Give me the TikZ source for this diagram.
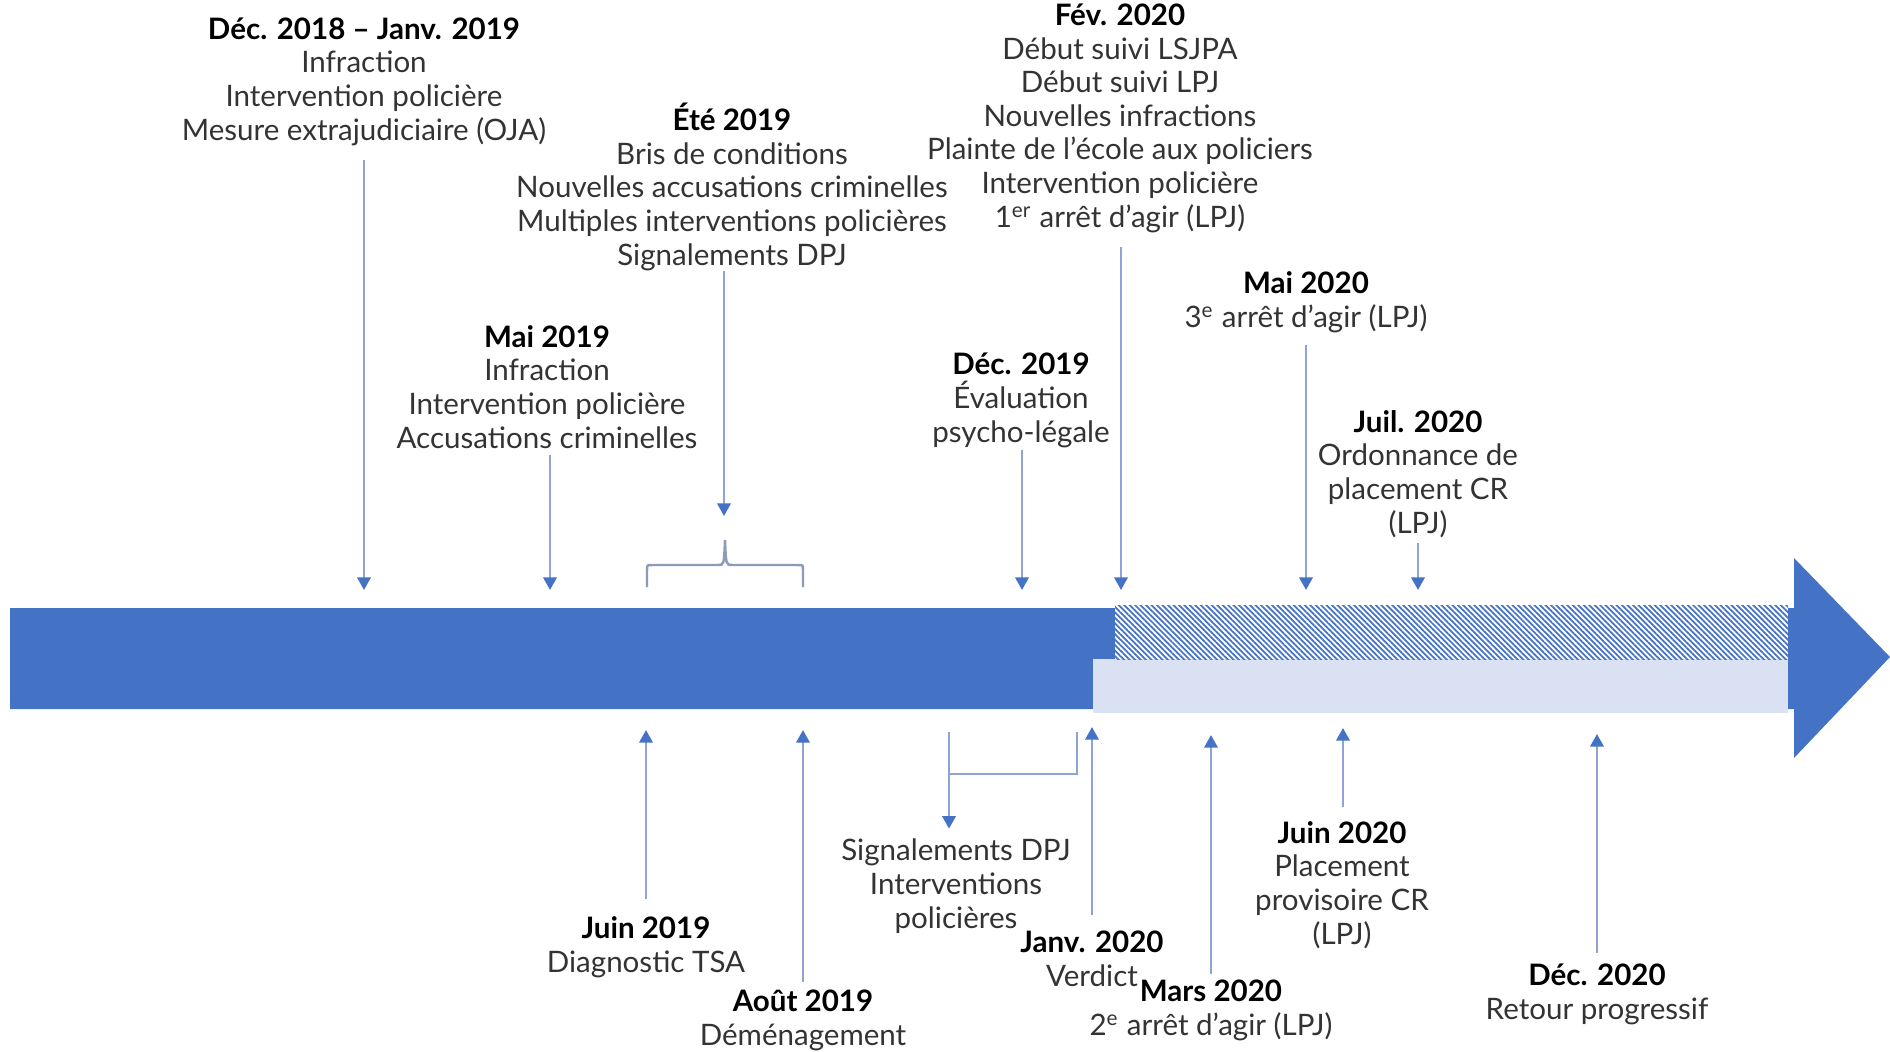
\documentclass[tikz,border=0pt]{standalone}
\usepackage{fontspec}
\setmainfont{Lato}
\usetikzlibrary{arrows.meta,patterns.meta}
\definecolor{barblue}{HTML}{4472C4}
\definecolor{lineblue}{HTML}{8FA4D3}
\definecolor{paleblue}{HTML}{D9E1F2}
\definecolor{bracegray}{HTML}{8E9BB8}
\definecolor{txt}{HTML}{333333}
\newcommand{\dt}[1]{\textbf{\color{black}#1}}

\begin{document}
\begin{tikzpicture}
[
 x=0.01cm, y=-0.01cm,
 LB/.style={align=center, inner sep=0pt, anchor=base, text=txt,
            font=\fontsize{8.4}{9.53}\selectfont},
 LN/.style={draw=lineblue, line width=0.7pt},
 AR/.style={LN, -{Triangle[length=3.6pt,width=3.8pt,color=barblue]}},
 BR/.style={draw=bracegray, line width=0.7pt},
]
\useasboundingbox (0,0) rectangle (1890,1051);
%
% timeline bar
\fill[barblue] (10,608) -- (1794,608) -- (1794,558) -- (1890,657)
   -- (1794,758) -- (1794,709) -- (10,709) -- cycle;
\fill[paleblue] (1093,659) rectangle (1788,713);
\fill[white] (1115,605) rectangle (1788,659);
\fill[pattern={Lines[angle=-45,distance=1.1pt,line width=0.5pt]},
      pattern color=barblue] (1115,605) rectangle (1788,659);
%
% events above (placed at last baseline)
\node [LB] (T1) at (364,140)  {\dt{Déc. 2018 – Janv. 2019}\\Infraction\\Intervention policière\\Mesure extrajudiciaire (OJA)};
\node [LB] (T2) at (732,265) {\dt{Été 2019}\\Bris de conditions\\Nouvelles accusations criminelles\\Multiples interventions policières\\Signalements DPJ};
\node [LB] (T3) at (547,448) {\dt{Mai 2019}\\Infraction\\Intervention policière\\Accusations criminelles};
\node [LB] (T4) at (1021,442) {\dt{Déc. 2019}\\Évaluation\\psycho-légale};
\node [LB] (T5) at (1120,227) {\dt{Fév. 2020}\\Début suivi LSJPA\\Début suivi LPJ\\Nouvelles infractions\\Plainte de l’école aux policiers\\Intervention policière\\1\textsuperscript{er} arrêt d’agir (LPJ)};
\node [LB] (T6) at (1306,327) {\dt{Mai 2020}\\3\textsuperscript{e} arrêt d’agir (LPJ)};
\node [LB] (T7) at (1418,533) {\dt{Juil. 2020}\\Ordonnance de\\placement CR\\(LPJ)};
%
% events below
\node [LB] (B1) at (646,972)  {\dt{Juin 2019}\\Diagnostic TSA};
\node [LB] (B2) at (803,1045) {\dt{Août 2019}\\Déménagement};
\node [LB] (B3) at (956,928)  {Signalements DPJ\\Interventions\\policières};
\node [LB] (B4) at (1092,986) {\dt{Janv. 2020}\\Verdict};
\node [LB] (B5) at (1211,1035) {\dt{Mars 2020}\\2\textsuperscript{e} arrêt d’agir (LPJ)};
\node [LB] (B6) at (1342,944) {\dt{Juin 2020}\\Placement\\provisoire CR\\(LPJ)};
\node [LB] (B7) at (1597,1019) {\dt{Déc. 2020}\\Retour progressif};
%
% arrow ends
\coordinate (t1) at (364,590);
\coordinate (t2) at (724,516);
\coordinate (t3) at (550,590);
\coordinate (t4) at (1022,590);
\coordinate (t5) at (1121,590);
\coordinate (t6) at (1306,590);
\coordinate (t7) at (1418,590);
\coordinate (b1) at (646,730);
\coordinate (b2) at (803,730);
\coordinate (b4) at (1092,727);
\coordinate (b5) at (1211,735);
\coordinate (b6) at (1343,728);
\coordinate (b7) at (1597,734);
\coordinate (c1) at (949,732);
\coordinate (c2) at (1077,732);
\coordinate (c3) at (949,774);
%
\draw [AR, shorten <=5.7pt] (T1.base -| t1) -- (t1);
\draw [AR, shorten <=1.7pt] (T2.base -| t2) -- (t2);
\draw [AR, shorten <=2pt]   (T3.base -| t3) -- (t3);
\draw [AR, shorten <=2.3pt] (T4.base -| t4) -- (t4);
\draw [AR, shorten <=5.7pt] (T5.base -| t5) -- (t5);
\draw [AR, shorten <=5.1pt] (T6.base -| t6) -- (t6);
\draw [AR, shorten <=2.8pt] (T7.base -| t7) -- (t7);
%
\draw [AR, shorten <=4.8pt] (B1.north -| b1) -- (b1);
\draw [AR, shorten <=2pt]   (B2.north -| b2) -- (b2);
\draw [AR, shorten <=4.3pt] (B4.north -| b4) -- (b4);
\draw [AR, shorten <=1.4pt] (B5.north -| b5) -- (b5);
\draw [AR, shorten <=4pt]   (B6.north -| b6) -- (b6);
\draw [AR, shorten <=2.8pt] (B7.north -| b7) -- (b7);
%
\draw [LN] (c2) |- (c3);
\draw [AR, shorten >=2.8pt] (c1) -- (B3.north -| c1);
%
% brace over Ete 2019
\draw [BR] (647,587) -- (647,570) .. controls (647,565) .. (652,565) -- (718,565)
   .. controls (724,565) .. (725,540) .. controls (726,565) .. (732,565) -- (798,565)
   .. controls (803,565) .. (803,570) -- (803,587);
%
\end{tikzpicture}
\end{document}
